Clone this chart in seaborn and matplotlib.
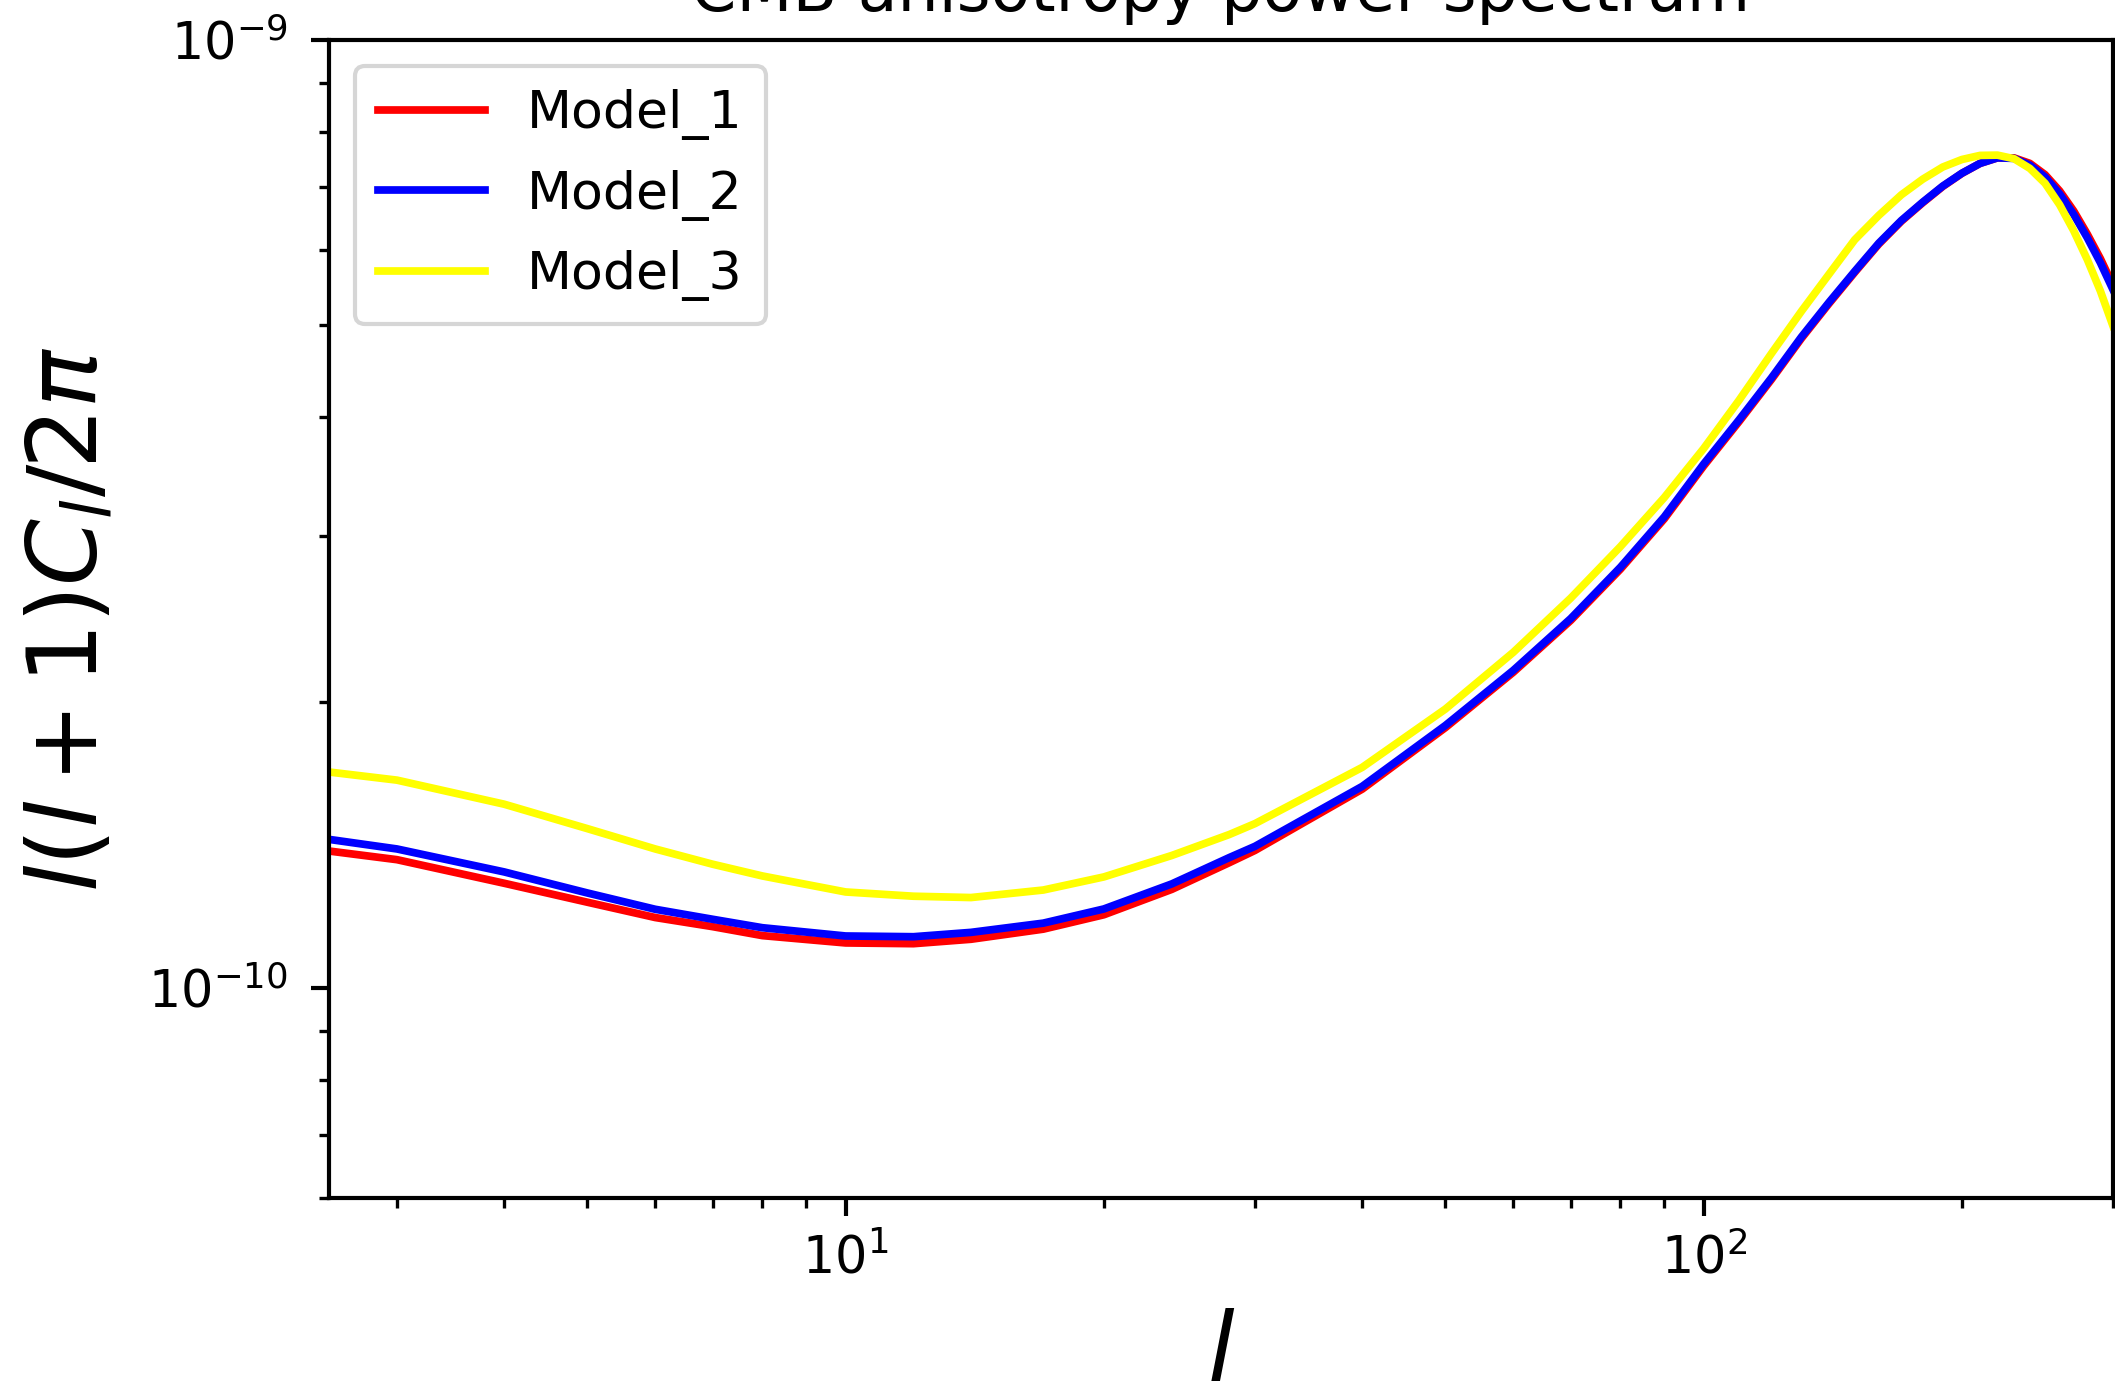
import numpy as np
import pandas as pd
import matplotlib
matplotlib.use("Agg")
import matplotlib.pyplot as plt
import seaborn as sns

# multipole moments
ell = [2.5, 3, 4, 5, 6, 7, 8, 10, 12, 14, 17, 20, 24, 28, 30, 40, 50, 60, 70, 80, 90,
       100, 110, 120, 130, 140, 150, 160, 170, 180, 190, 200, 210, 220, 230, 240,
       250, 260, 270, 280, 290, 300]

# l(l+1)C_l/2pi in units of 1e-10
model_1 = [1.394, 1.365, 1.289, 1.231, 1.186, 1.160, 1.135, 1.115, 1.113, 1.125, 1.153,
           1.194, 1.270, 1.355, 1.396, 1.620, 1.881, 2.152, 2.441, 2.765, 3.125,
           3.552, 3.958, 4.385, 4.843, 5.271, 5.686, 6.090, 6.438, 6.733, 7.006,
           7.232, 7.410, 7.510, 7.510, 7.410, 7.210, 6.930, 6.600, 6.240, 5.880, 5.510]
model_2 = [1.434, 1.401, 1.325, 1.259, 1.210, 1.181, 1.157, 1.134, 1.132, 1.144, 1.170,
           1.211, 1.287, 1.372, 1.410, 1.631, 1.891, 2.162, 2.452, 2.778, 3.140,
           3.569, 3.975, 4.402, 4.860, 5.287, 5.700, 6.104, 6.450, 6.743, 7.013,
           7.235, 7.410, 7.510, 7.500, 7.380, 7.170, 6.880, 6.545, 6.185, 5.822, 5.452]
model_3 = [1.689, 1.656, 1.562, 1.472, 1.401, 1.350, 1.312, 1.262, 1.249, 1.245, 1.268,
           1.309, 1.379, 1.451, 1.490, 1.708, 1.968, 2.259, 2.577, 2.921, 3.291,
           3.706, 4.169, 4.671, 5.173, 5.661, 6.155, 6.530, 6.865, 7.130, 7.345,
           7.480, 7.555, 7.560, 7.495, 7.320, 7.060, 6.700, 6.290, 5.866, 5.435, 4.990]

model_names = ["Model_1", "Model_2", "Model_3"]
model_colors = ["red", "blue", "yellow"]
scale = 1e-10

fig = plt.figure(figsize=(2115 / 300, 1390 / 300), dpi=300)
ax = fig.add_axes([329 / 2115, 1 - 1198 / 1390, (2113 - 329) / 2115, (1198 - 40) / 1390])

for name, vals, col in zip(model_names, [model_1, model_2, model_3], model_colors):
    df = pd.DataFrame({"l": ell, "cl": np.array(vals) * scale})
    sns.lineplot(data=df, x="l", y="cl", color=col, linewidth=1.85, label=name, ax=ax)

ax.set_xscale("log")
ax.set_yscale("log")
ax.set_xlim(2.5, 300)
ax.set_ylim(6e-11, 1e-9)

for sp in ax.spines.values():
    sp.set_linewidth(1.0)
ax.tick_params(axis="both", which="major", labelsize=12.2, length=4.3, width=1.0)
ax.tick_params(axis="both", which="minor", length=2.4, width=0.8)
ax.tick_params(axis="y", which="major", pad=5.5)
ax.tick_params(axis="x", which="major", pad=4.3)

ax.set_title("CMB anisotropy power spectrum", fontsize=15.6, pad=7)
ax.set_xlabel(r"$l$", fontsize=23)
ax.set_ylabel(r"$l(l+1)C_l/2\pi$", fontsize=23)
ax.yaxis.set_label_coords(-0.119, 0.5)
ax.xaxis.set_label_coords(0.5, -0.095)

ax.legend(loc="upper left", fontsize=12.5, labelspacing=0.56, handlelength=2.05,
          borderpad=0.45)

fig.savefig("out.png", dpi=300)
